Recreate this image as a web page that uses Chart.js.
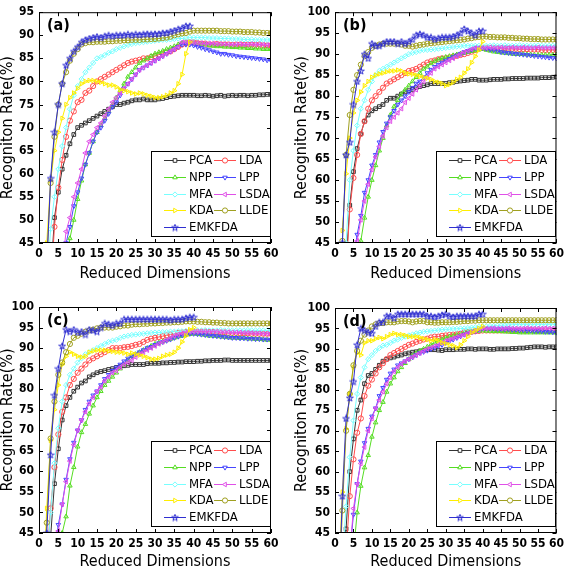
<!DOCTYPE html>
<html>
<head>
<meta charset="utf-8">
<script src="https://cdn.jsdelivr.net/npm/chart.js@4.4.0/dist/chart.umd.min.js"></script>
<style>
  html, body { margin: 0; padding: 0; background: #fff; }
  #wrap { position: relative; width: 568px; height: 568px; overflow: hidden; }
  .panel { position: absolute; width: 284px; height: 284px; }
</style>
</head>
<body>
<div id="wrap">
  <div class="panel" style="left:0;top:0"><canvas id="chartA" width="284" height="284"></canvas></div>
  <div class="panel" style="left:284px;top:0"><canvas id="chartB" width="284" height="284"></canvas></div>
  <div class="panel" style="left:0;top:284px"><canvas id="chartC" width="284" height="284"></canvas></div>
  <div class="panel" style="left:284px;top:284px"><canvas id="chartD" width="284" height="284"></canvas></div>
</div>
<script>
// reduced dimensions 1..60
const dims = [1,2,3,4,5,6,7,8,9,10, 11,12,13,14,15,16,17,18,19,20,
  21,22,23,24,25,26,27,28,29,30, 31,32,33,34,35,36,37,38,39,40,
  41,42,43,44,45,46,47,48,49,50, 51,52,53,54,55,56,57,58,59,60];

const methods = ['PCA', 'LDA', 'NPP', 'LPP', 'MFA', 'LSDA', 'KDA', 'LLDE', 'EMKFDA'];
const xTicks = [0, 5, 10, 15, 20, 25, 30, 35, 40, 45, 50, 55, 60];

// ===== panel (a) =====
const aPCA = [null,null,37,50.5,56,61,64,66.5,68.5,70,
  70.5,71,71.5,72,72.5,73,73.5,74,74.5,75,
  75,75.3,75.5,75.8,76,76,76.2,76,76,76,
  76.2,76.3,76.5,76.7,76.8,76.9,77,77,77,77,
  76.9,76.9,77,76.9,76.8,76.9,77,76.8,76.9,77,
  76.9,77,77,76.9,77,77,77.1,77.1,77.2,77.2];
const aLDA = [null,null,35,48.5,57,63,68,71.5,73.5,75.5,
  76,77.5,78,79,80,80.5,81,81.5,82,82.5,
  83,83.5,84,84.3,84.5,84.7,85,85,85.3,85.5,
  85.8,86,86.3,86.5,87,87.5,88,88.3,88.5,88.5,
  88.3,88.2,88.2,88,88,88.1,88,88,88,87.9,
  88,88,87.9,88,88,87.9,88,87.8,87.8,87.8];
const aNPP = [null,null,null,null,null,null,40,46,50,54.5,
  58.5,62,64.5,67,69,70.5,72,73.5,75,76.5,
  78,79.5,81,82,83,84,84.5,85,85.5,86,
  86.3,86.6,87,87.3,87.6,88,88.3,88.5,88.5,88.3,
  88.2,88,88,87.8,87.7,87.6,87.6,87.5,87.5,87.4,
  87.4,87.3,87.3,87.2,87.2,87.1,87.1,87,87,87];
const aLPP = [null,null,null,null,null,38,45,48.5,53,56,
  59,62,64.5,67,69,70,71.5,73,74.5,75.5,
  77,78.5,79.5,80.5,81.5,82.5,83,83.5,84,84.5,
  85,85.5,86,86.5,87,87.5,88,88,88,87.8,
  87.5,87.3,87,86.8,86.5,86.3,86,86,85.8,85.7,
  85.5,85.4,85.3,85.2,85.1,85,84.9,84.8,84.6,84.5];
const aMFA = [null,35,48,55,61,66,70,74,77,79,
  80.5,82,83,84,85,85.3,85.7,86.2,86.5,87,
  87.3,87.6,87.9,88.1,88.3,88.4,88.5,88.6,88.7,88.8,
  88.9,89,89,89.1,89.2,89.3,89.3,89.4,89.5,89.5,
  89.5,89.5,89.5,89.4,89.4,89.4,89.3,89.3,89.3,89.2,
  89.2,89.2,89.1,89.1,89.1,89,89,89,89,89];
const aLSDA = [null,null,null,null,null,40,47.5,50.5,55,58,
  61,64.5,67,68.5,70,71,72.5,74,75.5,76.5,
  77.5,78.5,79.5,80.5,81.5,82.5,83,83.5,84,84.5,
  85,85.5,86,86.5,87,87.5,88.5,88.5,88.5,88.4,
  88.3,88.3,88.2,88.2,88.2,88.1,88.1,88.1,88,88,
  88,88.1,88,88,88.1,88,88,88,87.9,88];
const aKDA = [null,45,58.5,65,69,72,75,76.5,77.5,78.5,
  79.5,80,80.2,80.2,80,79.8,79.5,79.2,79.2,78.8,
  78.2,78,77.8,77.5,77.3,77.5,77.3,77,76.8,76.5,
  76.5,76.7,77,77.5,78,79.5,81.5,86,88.5,null,
  null,null,null,null,null,null,null,null,null,null,
  null,null,null,null,null,null,null,null,null,null];
const aLLDE = [null,40,58,68,75,79.5,82,84.5,86,87,
  88,88.3,88.5,88.5,88.6,88.6,88.6,88.7,88.7,88.8,
  88.8,88.9,88.9,89,89,89,89.1,89.1,89.2,89.2,
  89.3,89.4,89.5,89.7,90,90.2,90.4,90.5,90.8,91,
  91,91,91,91,91,91,90.9,90.9,90.9,90.8,
  90.8,90.8,90.7,90.7,90.7,90.6,90.6,90.5,90.5,90.5];
const aEMK = [null,40,59,69,75,79.5,83.5,85,86.5,87.5,
  88.5,89,89.3,89.5,89.7,89.5,89.8,90,89.8,90,
  90,90,90.2,90,90.2,90.1,90.2,90.3,90.2,90.3,
  90.3,90.5,90.5,90.8,91,91.3,91.5,92,92,null,
  null,null,null,null,null,null,null,null,null,null,
  null,null,null,null,null,null,null,null,null,null];

// ===== panel (b) =====
const bPCA = [null,null,40,54,62,67.5,71,74,75.5,76.5,
  77,77.5,78,79,79.5,79.5,80,80.5,81,81.3,
  81.6,82,82.3,82.5,82.7,83,83,83,83,83,
  83.2,83.3,83.5,83.6,83.7,83.8,84,84,83.8,83.8,
  83.8,83.9,84,84,84,84.1,84.1,84.2,84.2,84.2,
  84.2,84.3,84.3,84.3,84.3,84.4,84.4,84.4,84.5,84.6];
const bLDA = [null,null,38,53,60.5,66,71,74,77,79,
  80,81,82,83,83.5,84,84.5,85,85.5,86,
  86.2,86.5,87,87.5,88,88.3,88.5,88.8,89,89,
  89.2,89.4,89.6,89.8,90,90.3,90.6,91,91.3,91.5,
  91.5,91.5,91.5,91.4,91.4,91.4,91.3,91.3,91.3,91.2,
  91.2,91.2,91.1,91.1,91.1,91,91,91,91,91];
const bNPP = [null,null,null,null,null,38,45.5,51,56,60,
  63.5,67,70,73,75.5,77.5,79,80.5,81.5,82.5,
  83.5,84.5,85.5,86.5,87,87.8,88.3,88.7,89,89.3,
  89.5,89.7,89.9,90.1,90.3,90.5,90.7,90.9,91.1,91.2,
  91,90.8,90.6,90.5,90.4,90.3,90.2,90.1,90,90,
  90,89.9,89.9,89.8,89.8,89.8,89.8,89.8,89.8,89.8];
const bLPP = [null,null,null,null,40,47,51.5,57,60,63.5,
  66,69,71.5,73.5,75,76.5,78,79,80,81,
  82,83,83.5,84.5,85.5,86.3,87,87.5,88,88.5,
  88.9,89.3,89.7,90.1,90.5,90.8,91.1,91.5,91.5,91.5,
  91.3,91.1,91,90.8,90.5,90.4,90.3,90.2,90.1,90,
  89.9,89.8,89.7,89.6,89.5,89.4,89.3,89.2,89.1,89];
const bMFA = [null,35,45,60,67,73,77,79,81.5,83.5,
  85,86,86.5,87,87.5,88,88.5,89,89.5,90,
  90.3,90.5,90.8,91,91,91.1,91.2,91.3,91.4,91.5,
  91.6,91.7,91.8,91.9,92,92,92,92,92,92,
  92,92,92.1,92,92,92.1,92,92,92,92.1,
  92,92,92,92,92.1,92,92,92,92,92];
const bLSDA = [null,null,null,null,38,45.5,50.5,55,59,62.5,
  65.5,68,70.5,72.5,74,75,76,77,78.5,79.5,
  80.5,81.5,82.5,83.5,84.5,85.5,86.5,87,87.5,88,
  88.5,89,89.5,90,90.5,90.8,91.2,91.5,91.5,91.5,
  91.5,91.6,91.5,91.5,91.6,91.5,91.5,91.6,91.5,91.5,
  91.6,91.5,91.5,91.5,91.6,91.5,91.5,91.5,91.5,91.5];
const bKDA = [null,48,61.5,70,76,79,81,82.5,83.5,84.5,
  85,85.3,85.5,85.8,86,86,86.2,86,85.5,85.3,
  85.2,85,84.7,84.5,84.3,84,83.5,83.3,83,82.5,
  82.8,83.3,84,84.5,85.5,86.5,88,89.5,91,93,
  null,null,null,null,null,null,null,null,null,null,
  null,null,null,null,null,null,null,null,null,null];
const bLLDE = [null,45.5,66,75.5,81.5,85,87.5,89.5,90.5,91.5,
  92,92.3,92.5,92.5,92.5,92.5,92.5,92.3,92,92,
  91.8,92,92.2,92.3,92.5,92.6,92.7,92.8,92.9,93,
  93.1,93.2,93.3,93.4,93.5,93.7,93.8,94,94.1,94.2,
  94.2,94.1,94.1,94,94,94,93.9,93.9,93.8,93.8,
  93.7,93.7,93.6,93.6,93.6,93.5,93.5,93.5,93.5,93.5];
const bEMK = [null,45,66,69,78,83.5,86,90,89,92.5,
  92,92,92.5,93,93,93,92.5,93,92.5,93,
  93.5,94.5,94.8,94.5,94,94,93.5,93.8,94,94,
  94,94.2,94.5,95,96,95.5,95,94.5,95.5,95.5,
  null,null,null,null,null,null,null,null,null,null,
  null,null,null,null,null,null,null,null,null,null];

// ===== panel (c) =====
const cPCA = [null,null,44,57,65.5,72.5,76,78,79.5,80.5,
  81.5,82,83,83.5,84,84.3,84.5,84.8,85,85.3,
  85.5,85.7,85.8,86,86,86,86,86.2,86.3,86.3,
  86.3,86.4,86.4,86.5,86.5,86.6,86.6,86.7,86.7,86.7,
  86.8,86.8,86.9,86.9,87,87,87,87.1,87.1,87,
  87,87,87,87,87,87,87,87,87,87];
const cLDA = [null,38,51,61,69,74.5,78,81,82.5,84,
  85,86,87,87.5,88,88.5,89,89.5,90,90,
  90,90.2,90.3,90.5,90.8,91,91.5,92,92.3,92.5,
  92.7,92.9,93.1,93.3,93.5,93.7,93.8,93.9,94,94,
  94,94,94,93.9,93.9,93.8,93.8,93.8,93.7,93.7,
  93.7,93.6,93.6,93.6,93.5,93.5,93.5,93.5,93.5,93.5];
const cNPP = [null,null,null,null,38,45,49,56.5,61,66,
  69.5,71.5,74,76,78,79.5,81,82,83,84,
  85,86,87,88,88.5,89,89.5,90,90.5,91,
  91.3,91.6,91.9,92.2,92.5,92.8,93,93.2,93.4,93.5,
  93.4,93.3,93.2,93,93,92.9,92.8,92.7,92.6,92.5,
  92.5,92.4,92.4,92.3,92.3,92.2,92.2,92.1,92,92];
const cLPP = [null,null,null,40,47,52,58,63,67,70,
  72.5,75,77,78.5,79.5,81,82.5,83.5,84.5,85.3,
  86,86.8,87.5,88,88.5,89,89.5,90,90.3,90.8,
  91.2,91.5,91.8,92.1,92.5,92.8,93.1,93.3,93.5,93.5,
  93.4,93.3,93.2,93.1,93,92.9,92.8,92.7,92.6,92.5,
  92.5,92.4,92.4,92.3,92.3,92.2,92.2,92.1,92.1,92];
const cMFA = [null,38,50,62,70.5,77,81,83.5,85,86.5,
  87.5,88.5,89,89.5,90,90.5,91,91.5,91.8,92,
  92.5,92.8,93,93.2,93.3,93.4,93.5,93.6,93.7,93.8,
  93.8,93.9,93.9,94,94,94.1,94.1,94.2,94.3,94.3,
  94.3,94.3,94.4,94.3,94.3,94.3,94.4,94.3,94.3,94.3,
  94.3,94.3,94.3,94.4,94.3,94.3,94.3,94.3,94.3,94.3];
const cLSDA = [null,null,null,38,45.5,52,57.5,62.5,66.5,70,
  72.5,74.5,76.5,78,79.5,80.5,82,83,84,84.5,
  85.3,86,86.5,87,87.8,88.5,89,89.5,90,90.5,
  91,91.5,92,92.5,93,93.3,93.6,93.8,94,94,
  94,94,94,94,94,94,93.9,93.9,93.9,93.8,
  93.8,93.8,93.7,93.7,93.7,93.6,93.6,93.5,93.5,93.5];
const cKDA = [30,51,67.5,75,81,86,88,89,88.5,88,
  87.8,88,89,89.3,89.5,89.5,89.5,89.3,89.2,89,
  89,88.8,88.5,88.8,88.5,88.3,88,87.7,87.3,87.3,
  87.5,88,88.3,88.5,89,90,91.5,93,94.5,95,
  null,null,null,null,null,null,null,null,null,null,
  null,null,null,null,null,null,null,null,null,null];
const cLLDE = [30,47.5,68,77,83.5,86.5,89,91,92.5,93,
  93.5,94,94.3,94.5,94.8,95,95,95,95,95.2,
  95.3,95.5,95.5,95.7,95.8,95.8,95.9,95.9,96,96,
  96.1,96.1,96.2,96.2,96.3,96.3,96.4,96.5,96.5,96.5,
  96.4,96.4,96.3,96.3,96.2,96.2,96.1,96.1,96,96,
  96,96,96,96,96,96,96,96,96,96];
const cEMK = [30,45,64,78.5,85,90.5,94.5,94,94.5,93.8,
  94,93.3,94.5,94.3,94,95,96,95.8,95.5,96,
  96,97,97,97,97,97,97,97,97,97,
  97,97,97,96.8,97,97,97,97.3,97.5,97.5,
  null,null,null,null,null,null,null,null,null,null,
  null,null,null,null,null,null,null,null,null,null];

// ===== panel (d) =====
const dPCA = [null,35,46,60,68,75,77.5,81.5,83.5,84,
  85,86,87,87.5,87.8,88,88.3,88.5,88.8,89,
  89.2,89.3,89.5,89.6,89.8,89.8,89.8,89.7,89.6,89.8,
  89.8,89.8,89.9,89.9,89.9,90,90,89.9,90,90,
  90,89.9,89.9,90,90,90,90,90.1,90.1,90.2,
  90.2,90.3,90.4,90.5,90.5,90.5,90.4,90.5,90.5,90.5];
const dLDA = [null,null,40,54,63,69.5,73,78.5,81,82.5,
  84,85.5,86.5,87.5,88.5,89,89.5,90,90.5,91,
  91.3,91.7,92,92.3,92.5,92.8,93,93,93.2,93.3,
  93.4,93.5,93.6,93.7,94,94.1,94.2,94.3,94.4,94.5,
  94.5,94.5,94.5,94.5,94.5,94.6,94.5,94.5,94.5,94.5,
  94.5,94.5,94.6,94.5,94.5,94.5,94.5,94.5,94.5,94.5];
const dNPP = [null,null,null,null,40,50,56.5,61,64,68.5,
  72,75,77,79.5,81.5,83,84.5,85.5,86.5,87.5,
  88.3,89,89.5,90,90.5,91,91.5,92,92.3,92.7,
  93,93.2,93.4,93.6,94,94.1,94.2,94.3,94.4,94.5,
  94.4,94.4,94.3,94.3,94.3,94.2,94.2,94.1,94.1,94,
  94,94,94,94,94,94,94,94,94,94];
const dLPP = [null,null,null,40,49.5,57,62.5,67,70.5,73.5,
  75.5,78.5,80.5,82.5,84,85,86,86.5,87,87.5,
  88,88.5,89,89.3,89.6,90,90.3,90.7,91,91.5,
  91.9,92.3,92.7,93.1,93.5,93.8,94.1,94.4,94.7,95,
  95,95,95,94.9,94.9,94.8,94.8,94.7,94.7,94.6,
  94.6,94.5,94.5,94.4,94.4,94.3,94.2,94.2,94.1,94];
const dMFA = [null,38,51.5,63.5,72.5,79,83,85.5,87.5,88.5,
  89.5,90.2,90.8,91,91.5,92,92.3,92.7,93,93.3,
  93.5,93.8,94,94.2,94.3,94.4,94.5,94.6,94.7,94.8,
  94.8,94.9,94.9,95,95,95.1,95.2,95.3,95.4,95.5,
  95.5,95.6,95.6,95.7,95.8,95.8,95.9,95.9,96,96,
  96,96,96,96,96,96,96,96,96,96];
const dLSDA = [null,null,null,40,51,57,62,66,70,73,
  75.5,77.5,79.5,81.5,83,84.5,85.5,86.3,87,87.5,
  88,88.5,89,89.5,90,90.3,90.7,91,91.5,92,
  92.3,92.6,92.9,93.2,93.5,93.8,94.1,94.4,94.7,95,
  95,95,95.1,95,95,95,95.1,95,95,95,
  95,95.1,95,95,95,95,95.1,95,95,95];
const dKDA = [35,55,70.5,79,85.5,89,88.5,91.5,92,92,
  92.5,92.8,92.5,93,93.5,93.8,93.5,93.5,93.3,93,
  93,93,92.8,92.5,92.3,92,92.3,92,91.5,91.3,
  91,90.8,90.3,91,92,93,94,94.5,95,95.5,
  null,null,null,null,null,null,null,null,null,null,
  null,null,null,null,null,null,null,null,null,null];
const dLLDE = [30,50.5,70,79,86,89.5,92,93.5,94.5,95.5,
  96,96.3,96.3,96.5,96.5,96.5,96.7,96.8,96.8,96.7,
  96.5,96.7,96.8,96.8,96.5,96.5,96.4,96.4,96.5,96.5,
  96.5,96.6,96.6,96.7,96.8,96.8,96.9,96.9,97,97,
  97,97,97,97,97,97,97,97,97,97,
  97,97,97,97,97,97,97,97,97,97];
const dEMK = [30,54,73,78,82,91,95,94.5,94,93.8,
  95.5,96.5,96.5,98,98,97.5,98.5,98.5,98.5,98.5,
  98.5,98.5,98.5,98.5,98,98,97.8,98,98.3,98.5,
  98,97.8,98,98,98,98,98,98,98.5,98.5,
  null,null,null,null,null,null,null,null,null,null,
  null,null,null,null,null,null,null,null,null,null];

const FONT = '"Liberation Sans Narrow", "DejaVu Sans Condensed", "Liberation Sans", Arial, sans-serif';

// small open five-point star for EMKFDA
function makeStar(color) {
  const c = document.createElement('canvas');
  c.width = 8; c.height = 8;
  const g = c.getContext('2d');
  g.strokeStyle = color;
  g.lineWidth = 1;
  g.beginPath();
  for (let k = 0; k < 10; k++) {
    const r = k % 2 ? 1.4 : 3.5;
    const ang = -Math.PI / 2 + k * Math.PI / 5;
    const px = 4 + r * Math.cos(ang), py = 4.3 + r * Math.sin(ang);
    if (k === 0) g.moveTo(px, py); else g.lineTo(px, py);
  }
  g.closePath();
  g.stroke();
  return c;
}

const styles = [
  { color: '#333333', pointStyle: 'rect', rotation: 0 },
  { color: '#ff4d4d', pointStyle: 'circle', rotation: 0 },
  { color: '#55dd22', pointStyle: 'triangle', rotation: 0 },
  { color: '#4646ff', pointStyle: 'triangle', rotation: 180 },
  { color: '#77ffff', pointStyle: 'rectRot', rotation: 0 },
  { color: '#e050e8', pointStyle: 'triangle', rotation: 270 },
  { color: '#ffee00', pointStyle: 'triangle', rotation: 90 },
  { color: '#a0a020', pointStyle: 'circle', rotation: 0 },
  { color: '#2f2fd0', pointStyle: makeStar('#2f2fd0'), rotation: 0 }
];

// box around the plot with inward ticks, like matlab
const framePlugin = {
  id: 'frame',
  afterDatasetsDraw(chart) {
    const { ctx, chartArea: a, scales } = chart;
    ctx.save();
    ctx.strokeStyle = '#000';
    ctx.lineWidth = 1;
    ctx.strokeRect(a.left + 0.5, a.top + 0.5, a.right - a.left - 1, a.bottom - a.top - 1);
    ctx.beginPath();
    scales.y.ticks.forEach(t => {
      const y = Math.round(scales.y.getPixelForValue(t.value)) + 0.5;
      ctx.moveTo(a.left, y); ctx.lineTo(a.left + 4, y);
      ctx.moveTo(a.right, y); ctx.lineTo(a.right - 4, y);
    });
    scales.x.ticks.forEach(t => {
      const x = Math.round(scales.x.getPixelForValue(t.value)) + 0.5;
      ctx.moveTo(x, a.bottom); ctx.lineTo(x, a.bottom - 4);
      ctx.moveTo(x, a.top); ctx.lineTo(x, a.top + 4);
    });
    ctx.stroke();
    ctx.restore();
  }
};

// legend box sitting inside the lower right of the plot
const legendPlugin = {
  id: 'innerLegend',
  afterDatasetsDraw(chart) {
    const { ctx, chartArea: a } = chart;
    const w = 120, h = 86;
    const x0 = Math.round(a.right - w), y0 = Math.round(a.bottom - 6 - h);
    ctx.save();
    ctx.fillStyle = '#fff';
    ctx.fillRect(x0, y0, w, h);
    ctx.strokeStyle = '#000';
    ctx.lineWidth = 1;
    ctx.strokeRect(x0 + 0.5, y0 + 0.5, w - 1, h - 1);
    ctx.font = '13px ' + FONT;
    ctx.textBaseline = 'middle';
    ctx.textAlign = 'left';
    chart.data.datasets.forEach((ds, i) => {
      const col = i % 2, row = Math.floor(i / 2);
      const lx = x0 + (col ? 63 : 13), ly = Math.round(y0 + 9 + row * 16.8) + 0.5;
      ctx.strokeStyle = ds.borderColor;
      ctx.lineWidth = 1;
      ctx.beginPath(); ctx.moveTo(lx, ly); ctx.lineTo(lx + 22, ly); ctx.stroke();
      ctx.fillStyle = '#fff';
      Chart.helpers.drawPoint(ctx, {
        pointStyle: ds.pointStyle, rotation: ds.pointRotation, radius: 2.6, borderWidth: 1
      }, lx + 11, ly);
      ctx.fillStyle = '#000';
      ctx.fillText(ds.label, lx + 25, ly + 0.5);
    });
    ctx.restore();
  }
};

const tagPlugin = {
  id: 'panelTag',
  afterDraw(chart) {
    const { ctx, chartArea: a } = chart;
    ctx.save();
    ctx.font = 'bold 16px ' + FONT;
    ctx.fillStyle = '#000';
    ctx.textBaseline = 'middle';
    ctx.fillText(chart.options.plugins.panelTag.text, a.left + 8, a.top + 14);
    ctx.restore();
  }
};

function createPanel(canvasId, tag, seriesList, box) {
  const datasets = seriesList.map((vals, i) => ({
    label: methods[i],
    data: vals.map((v, k) => ({ x: dims[k], y: v })),
    borderColor: styles[i].color,
    backgroundColor: 'rgba(255,255,255,0)',
    borderWidth: 1,
    pointStyle: styles[i].pointStyle,
    pointRotation: styles[i].rotation,
    pointRadius: 2.6,
    pointBorderWidth: 1,
    pointBorderColor: styles[i].color,
    pointBackgroundColor: 'rgba(255,255,255,0)',
    tension: 0,
    order: 9 - i
  }));

  new Chart(document.getElementById(canvasId), {
    type: 'line',
    data: { datasets },
    options: {
      responsive: false,
      animation: false,
      layout: { padding: { top: box.top, right: 284 - box.right, left: 0, bottom: 0 } },
      plugins: {
        legend: { display: false },
        tooltip: { enabled: false },
        panelTag: { text: tag }
      },
      scales: {
        x: {
          type: 'linear',
          min: 0, max: 60,
          afterBuildTicks: axis => { axis.ticks = xTicks.map(v => ({ value: v })); },
          afterFit: axis => { axis.height = 284 - box.bottom; },
          grid: { display: false, drawTicks: false },
          border: { display: false },
          ticks: { color: '#000', padding: 4, maxRotation: 0, autoSkip: false,
            font: { family: FONT, size: 12, weight: 'bold' } },
          title: { display: true, text: 'Reduced Dimensions', color: '#000',
            padding: { top: 0, bottom: box.xTitlePad },
            font: { family: FONT, size: 16 } }
        },
        y: {
          min: 45, max: box.yMax,
          afterFit: axis => { axis.width = box.left; },
          grid: { display: false, drawTicks: false },
          border: { display: false },
          ticks: { color: '#000', stepSize: 5, padding: 5,
            font: { family: FONT, size: 12, weight: 'bold' } },
          title: { display: true, text: 'Recogniton Rate(%)', color: '#000',
            padding: { top: box.yTitlePad, bottom: 0 },
            font: { family: FONT, size: 16 } }
        }
      }
    },
    plugins: [framePlugin, legendPlugin, tagPlugin]
  });
}

createPanel('chartA', '(a)', [aPCA, aLDA, aNPP, aLPP, aMFA, aLSDA, aKDA, aLLDE, aEMK],
  { left: 39, right: 271, top: 5, bottom: 243, yMax: 95, yTitlePad: -2, xTitlePad: 1 });
createPanel('chartB', '(b)', [bPCA, bLDA, bNPP, bLPP, bMFA, bLSDA, bKDA, bLLDE, bEMK],
  { left: 51, right: 276, top: 6, bottom: 243, yMax: 100, yTitlePad: 8, xTitlePad: 1 });
createPanel('chartC', '(c)', [cPCA, cLDA, cNPP, cLPP, cMFA, cLSDA, cKDA, cLLDE, cEMK],
  { left: 39, right: 271, top: 23, bottom: 249, yMax: 100, yTitlePad: -2, xTitlePad: -3 });
createPanel('chartD', '(d)', [dPCA, dLDA, dNPP, dLPP, dMFA, dLSDA, dKDA, dLLDE, dEMK],
  { left: 51, right: 277, top: 24, bottom: 249, yMax: 100, yTitlePad: 8, xTitlePad: -3 });
</script>
</body>
</html>
